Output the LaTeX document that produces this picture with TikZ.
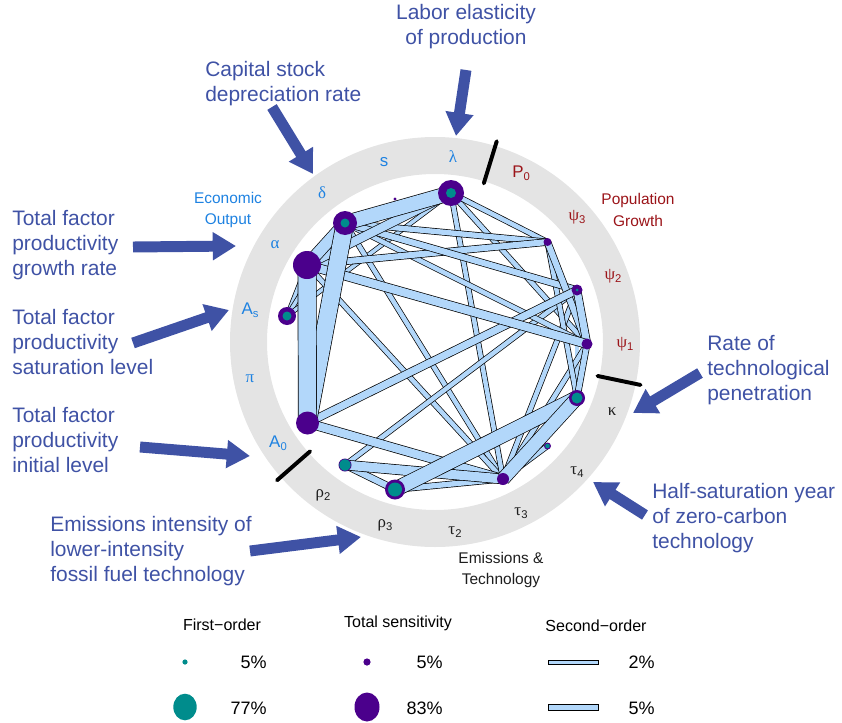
\documentclass[tikz,border=0pt]{standalone}
\usepackage{fontspec}
\setmainfont{Liberation Sans}
\newfontfamily\grk{Liberation Serif}
\usetikzlibrary{arrows.meta}
\definecolor{ringgrey}{RGB}{228,228,228}
\definecolor{bandblue}{RGB}{178,215,250}
\definecolor{purp}{RGB}{75,0,140}
\definecolor{tealc}{RGB}{0,140,140}
\definecolor{arrowblue}{RGB}{63,82,165}
\definecolor{econblue}{RGB}{30,130,225}
\definecolor{popred}{RGB}{155,20,25}
\definecolor{emisblack}{RGB}{30,30,30}
\newcommand\lowsub[1]{\raisebox{-0.35ex}{\fontsize{8}{9}\selectfont #1}}
\begin{document}
\begin{tikzpicture}[x=0.025cm,y=-0.025cm,
 bigtxt/.style={text=arrowblue,font=\fontsize{14.9}{17.8}\selectfont,inner sep=0pt,execute at begin node=\strut},
 ringlbl/.style={font=\fontsize{12}{14}\selectfont,inner sep=0pt},
 grouplbl/.style={font=\fontsize{11}{15}\selectfont,align=center,inner sep=0pt},
 band/.style={draw=black,line width=0.5pt,double=bandblue,double distance=#1},
 arr/.style={draw=arrowblue,line width=7.8pt,-{Triangle[length=16.5pt,width=19pt]}},
 sepline/.style={line width=2.8pt,line cap=round},
 legtxt/.style={font=\fontsize{11.4}{13}\selectfont,inner sep=0pt},
 pcttxt/.style={font=\fontsize{12.8}{15}\selectfont,inner sep=0pt,anchor=east}]
\useasboundingbox (0,0) rectangle (842,723);
\coordinate (C) at (435,342);
% ring
\fill[ringgrey,even odd rule] (C) circle (205) (C) circle (168);
\draw[sepline] ([shift={(-72.9:166)}]C) -- ([shift={(-72.9:210)}]C);
\draw[sepline] ([shift={(11.8:166)}]C) -- ([shift={(11.8:210)}]C);
\draw[sepline] ([shift={(138.8:166)}]C) -- ([shift={(138.8:210)}]C);
% parameter positions
\coordinate (lam) at (451,193);
\coordinate (psi3) at (547.5,242);
\coordinate (psi2) at (577,290);
\coordinate (psi1) at (587,344);
\coordinate (kap) at (577,398);
\coordinate (tau4) at (547.5,446);
\coordinate (tau3) at (503,479);
\coordinate (rho3) at (395,489.5);
\coordinate (rho2) at (345,465);
\coordinate (A0) at (307.5,423);
\coordinate (As) at (287,316);
\coordinate (alp) at (307,265);
\coordinate (del) at (345,223);
\coordinate (s) at (395,199);
% second-order bands
\draw[band=2.5pt] (As) -- (alp);
\draw[band=2.5pt] (As) -- (del);
\draw[band=2.5pt] (As) -- (lam);
\draw[band=2.5pt] (psi2) -- (kap);
\draw[band=3.2pt] (del) -- (tau3);
\draw[band=3.2pt] (alp) -- (tau3);
\draw[band=3.2pt] (lam) -- (tau3);
\draw[band=3.2pt] (lam) -- (psi1);
\draw[band=3.2pt] (lam) -- (psi3);
\draw[band=3.2pt] (rho2) -- (psi2);
\draw[band=3.2pt] (psi1) -- (tau3);
\draw[band=3.2pt] (psi2) -- (tau3);
\draw[band=3.2pt] (psi3) -- (kap);
\draw[band=3.2pt] (tau3) -- (tau4);
\draw[band=3.2pt] (del) -- (psi1);
\draw[band=3.8pt] (psi1) -- (kap);
\draw[band=3.8pt] (del) -- (psi3);
\draw[band=3.8pt] (rho3) -- (tau3);
\draw[band=4.3pt] (alp) -- (psi3);
\draw[band=4.3pt] (del) -- (psi2);
\draw[band=4.3pt] (psi3) -- (psi1);
\draw[band=4.3pt] (rho2) -- (rho3);
\draw[band=5pt] (A0) -- (psi2);
\draw[band=5pt] (psi2) -- (psi1);
\draw[band=5.8pt] (alp) -- (lam);
\draw[band=5.8pt] (A0) -- (tau3);
\draw[band=5.8pt] (alp) -- (psi1);
\draw[band=6.5pt] (rho2) -- (tau3);
\draw[band=8pt] (alp) -- (del);
\draw[band=10pt] (rho3) -- (kap);
\draw[band=9pt] (tau3) -- (kap);
\draw[band=10pt] (del) -- (lam);
\draw[band=12pt] (del) -- (A0);
\draw[band=12.5pt] (alp) -- (A0);
% total and first-order indices
\fill[purp] (lam) circle (13);  \fill[tealc] (lam) circle (5);
\fill[purp] (del) circle (12);  \fill[tealc] (del) circle (4.5);
\fill[purp] (alp) circle (14);
\fill[purp] (s) circle (1.6);
\fill[purp] (As) circle (9);    \fill[tealc] (As) circle (4.5);
\fill[purp] (A0) circle (11.5);
\fill[purp] (rho2) circle (6.5); \fill[tealc] (rho2) circle (5.7);
\fill[purp] (rho3) circle (10); \fill[tealc] (rho3) circle (7);
\fill[purp] (tau3) circle (6);
\fill[purp] (tau4) circle (3.5); \fill[tealc] (tau4) circle (2.3);
\fill[purp] (kap) circle (8);   \fill[tealc] (kap) circle (5.5);
\fill[purp] (psi1) circle (5.5);
\fill[purp] (psi2) circle (5.5); \fill[tealc] (psi2) circle (1.5);
\fill[purp] (psi3) circle (4);
% ring labels
\begin{scope}[every node/.style={ringlbl}]
\node[text=econblue] (l-lam) at (453,157) {\grk λ};
\node[text=econblue] (l-s) at (384,162) {s};
\node[text=econblue] (l-del) at (322,193) {\grk δ};
\node[text=econblue] (l-alp) at (275,245) {\grk α};
\node[text=econblue] (l-As) at (250,310) {A\lowsub{s}};
\node[text=econblue] (l-pi) at (250,379) {\grk π};
\node[text=econblue] (l-A0) at (278,443) {A\lowsub{0}};
\node[text=popred] (l-P0) at (521,173) {P\lowsub{0}};
\node[text=popred] (l-psi3) at (577,217) {{\grk ψ}\lowsub{3}};
\node[text=popred] (l-psi2) at (613,276) {{\grk ψ}\lowsub{2}};
\node[text=popred] (l-psi1) at (625,344) {{\grk ψ}\lowsub{1}};
\node[text=emisblack] (l-kap) at (612,412) {\grk κ};
\node[text=emisblack] (l-tau4) at (577,472) {{\grk τ}\lowsub{4}};
\node[text=emisblack] (l-tau3) at (521,513) {{\grk τ}\lowsub{3}};
\node[text=emisblack] (l-tau2) at (455,532) {{\grk τ}\lowsub{2}};
\node[text=emisblack] (l-rho3) at (385,525) {{\grk ρ}\lowsub{3}};
\node[text=emisblack] (l-rho2) at (323,495) {{\grk ρ}\lowsub{2}};
\end{scope}
\node[grouplbl,text=econblue] (g-econ) at (228,210) {Economic\\Output};
\node[grouplbl,text=popred] (g-pop) at (638,210) {Population\\Growth};
\node[grouplbl,text=emisblack] (g-emis) at (501,570) {Emissions \&\\Technology};
% annotations
\node[bigtxt,align=center,anchor=north] (t-lab) at (466,4) {Labor elasticity\\of production};
\node[bigtxt,align=left,anchor=north west] (t-cap) at (205,61) {Capital stock\\depreciation rate};
\node[bigtxt,align=left,anchor=north west] (t-tfpg) at (12,210) {Total factor\\productivity\\growth rate};
\node[bigtxt,align=left,anchor=north west] (t-tfps) at (12,309) {Total factor\\productivity\\saturation level};
\node[bigtxt,align=left,anchor=north west] (t-tfpi) at (12,407) {Total factor\\productivity\\initial level};
\node[bigtxt,align=left,anchor=north west] (t-emis) at (50,516) {Emissions intensity of\\lower-intensity\\fossil fuel technology};
\node[bigtxt,align=left,anchor=north west] (t-half) at (652,483) {Half-saturation year\\of zero-carbon\\technology};
\node[bigtxt,align=left,anchor=north west] (t-rate) at (707,335) {Rate of\\technological\\penetration};
% arrows
\coordinate (a1s) at (466,70);  \coordinate (a1e) at (456,136);
\coordinate (a2s) at (272,107); \coordinate (a2e) at (313,174);
\coordinate (a3s) at (133,247); \coordinate (a3e) at (236,246);
\coordinate (a4s) at (133,343); \coordinate (a4e) at (229,310);
\coordinate (a5s) at (140,447); \coordinate (a5e) at (250,456);
\coordinate (a6s) at (250,551); \coordinate (a6e) at (361,537);
\coordinate (a7s) at (645,515); \coordinate (a7e) at (593,482);
\coordinate (a8s) at (700,373); \coordinate (a8e) at (633,413);
\foreach \i in {1,...,8} {\draw[arr] (a\i s) -- (a\i e);}
% legend
\node[legtxt] (h-first) at (222,625) {First−order};
\node[legtxt] (h-total) at (398,623) {Total sensitivity};
\node[legtxt] (h-second) at (596,626) {Second−order};
\fill[tealc] (185,662) circle (2.6);
\fill[tealc] (185,707) ellipse (11.7 and 13.3);
\fill[purp] (367,662) circle (3.6);
\fill[purp] (367,707) ellipse (12.5 and 14.5);
\draw[black,line width=0.6pt,fill=bandblue] (548,660) rectangle (598,664);
\draw[black,line width=0.6pt,fill=bandblue] (548,704) rectangle (598,710);
\node[pcttxt] (p1) at (267,662) {5\%};
\node[pcttxt] (p2) at (267,708) {77\%};
\node[pcttxt] (p3) at (443,662) {5\%};
\node[pcttxt] (p4) at (443,708) {83\%};
\node[pcttxt] (p5) at (655,662) {2\%};
\node[pcttxt] (p6) at (655,708) {5\%};
\end{tikzpicture}
\end{document}
